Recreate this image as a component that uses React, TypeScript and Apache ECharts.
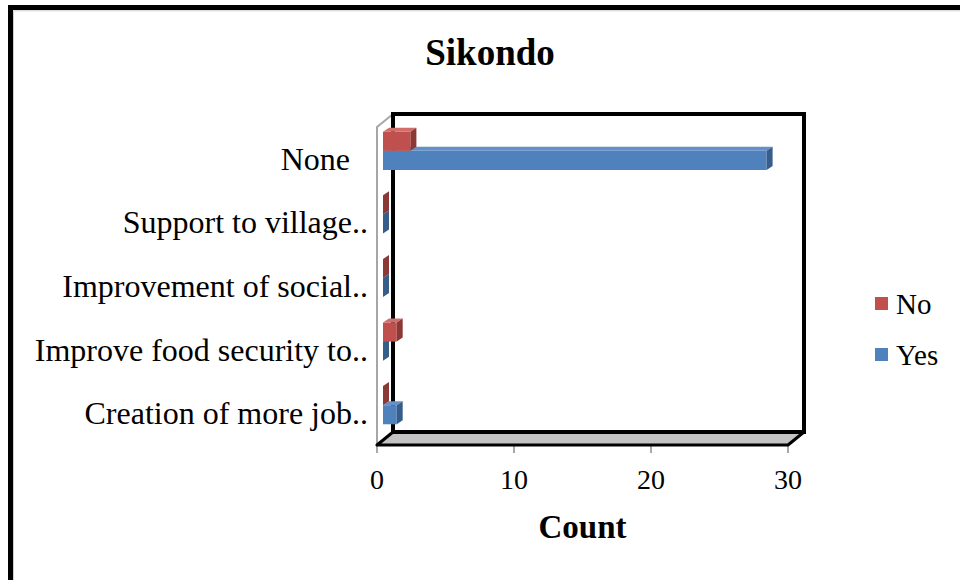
import React, { useEffect, useRef } from "react";
import * as echarts from "echarts";

// Categories listed bottom-to-top (ECharts category y axis starts at the bottom)
const categories = [
  "Creation of more job..",
  "Improve food security to..",
  "Improvement of social..",
  "Support to village..",
  "None",
];
const noCounts = [0, 1, 0, 0, 2];
const yesCounts = [1, 0, 0, 0, 28];
const xTicks = [0, 10, 20, 30];

const FONT = "'Liberation Serif', 'Times New Roman', serif";
const RED = { front: "#C0504D", top: "#CF6E6B", side: "#8C3835" };
const BLUE = { front: "#4F81BD", top: "#6390C8", side: "#375D8B" };

// Geometry of the 3D box around the plot
const FRONT_L = 377;
const FRONT_R = 788;
const FRONT_T = 127;
const FRONT_B = 445;
const DEPTH_X = 16;
const DEPTH_Y = -13;

function bar3d(colors: { front: string; top: string; side: string }, upper: boolean) {
  return (params: any, api: any) => {
    const v = api.value(0);
    const c = api.value(1);
    const start = api.coord([0, c]);
    const end = api.coord([v, c]);
    const band = api.size([0, 1])[1];
    const h = band * 0.3;
    const ox = 6;
    const oy = -8;
    const dx = 6;
    const dy = -4;
    const x0 = start[0] + ox;
    const x1 = end[0] + ox;
    const yTop = start[1] + oy + (upper ? -h : 0);
    const yBot = yTop + h;
    return {
      type: "group",
      children: [
        {
          type: "rect",
          shape: { x: x0, y: yTop, width: Math.max(0, x1 - x0), height: h },
          style: { fill: colors.front },
        },
        {
          type: "polygon",
          shape: {
            points: [
              [x0, yTop],
              [x0 + dx, yTop + dy],
              [x1 + dx, yTop + dy],
              [x1, yTop],
            ],
          },
          style: { fill: colors.top },
        },
        {
          type: "polygon",
          shape: {
            points: [
              [x1, yTop],
              [x1 + dx, yTop + dy],
              [x1 + dx, yBot + dy],
              [x1, yBot],
            ],
          },
          style: { fill: colors.side },
        },
      ],
    };
  };
}

export default function App() {
  const ref = useRef<HTMLDivElement>(null);

  useEffect(() => {
    if (!ref.current) return;
    const chart = echarts.init(ref.current, null, { renderer: "svg" });

    const yesData = yesCounts.map((v, i) => [v, i]);
    const noData = noCounts.map((v, i) => [v, i]);

    chart.setOption({
      animation: false,
      backgroundColor: "#ffffff",
      title: {
        text: "Sikondo",
        left: 485,
        top: 29,
        textAlign: "center",
        textStyle: { fontFamily: FONT, fontWeight: "bold", fontSize: 37, color: "#000" },
      },
      legend: {
        data: ["No", "Yes"],
        orient: "vertical",
        left: 870,
        top: 284,
        itemWidth: 13,
        itemHeight: 13,
        itemGap: 22,
        icon: "rect",
        textStyle: { fontFamily: FONT, fontSize: 29, color: "#000", padding: [0, 0, 0, 3] },
      },
      grid: {
        left: FRONT_L,
        right: 960 - FRONT_R,
        top: FRONT_T,
        bottom: 580 - FRONT_B,
        containLabel: false,
      },
      xAxis: {
        type: "value",
        min: xTicks[0],
        max: xTicks[xTicks.length - 1],
        interval: 10,
        name: "Count",
        nameLocation: "middle",
        nameGap: 65,
        nameTextStyle: { fontFamily: FONT, fontWeight: "bold", fontSize: 33, color: "#000" },
        axisLine: { show: false },
        axisTick: { show: true, length: 8, lineStyle: { color: "#8c8c8c", width: 1.5 } },
        axisLabel: { fontFamily: FONT, fontSize: 28, color: "#000", margin: 20 },
        splitLine: { show: false },
      },
      yAxis: {
        type: "category",
        data: categories,
        axisLine: { show: true, lineStyle: { color: "#a6a6a6", width: 2 } },
        axisTick: { show: false },
        axisLabel: {
          fontFamily: FONT,
          fontSize: 32,
          color: "#000",
          margin: 9,
          formatter: (v: string) => (v === "None" ? `{n|${v}}` : v),
          rich: { n: { fontFamily: FONT, fontSize: 32, color: "#000", padding: [0, 18, 0, 0] } },
        },
        splitLine: { show: false },
      },
      graphic: [
        // outer frame
        {
          type: "rect",
          z: 0,
          shape: { x: 10.5, y: 7.5, width: 1000, height: 1000 },
          style: { fill: "none", stroke: "#000", lineWidth: 5 },
        },
        {
          type: "polyline",
          z: 0,
          shape: { points: [[13.5, 1000], [13.5, 10.8], [1000, 10.8]] },
          style: { fill: "none", stroke: "#cfcfcf", lineWidth: 1 },
        },
        // left wall edge
        {
          type: "line",
          z: 1,
          shape: { x1: FRONT_L, y1: FRONT_T, x2: FRONT_L + DEPTH_X, y2: FRONT_T + DEPTH_Y },
          style: { stroke: "#a6a6a6", lineWidth: 2 },
        },
        // floor
        {
          type: "polygon",
          z: 1,
          shape: {
            points: [
              [FRONT_L, FRONT_B],
              [FRONT_R, FRONT_B],
              [FRONT_R + DEPTH_X, FRONT_B + DEPTH_Y],
              [FRONT_L + DEPTH_X, FRONT_B + DEPTH_Y],
            ],
          },
          style: { fill: "#c3c3c3", stroke: "#000", lineWidth: 3, lineJoin: "round" },
        },
        // back wall
        {
          type: "rect",
          z: 1,
          shape: {
            x: FRONT_L + DEPTH_X,
            y: FRONT_T + DEPTH_Y,
            width: FRONT_R - FRONT_L,
            height: FRONT_B - FRONT_T,
          },
          style: { fill: "none", stroke: "#000", lineWidth: 4 },
        },
      ],
      series: [
        {
          name: "Yes",
          type: "custom",
          z: 5,
          itemStyle: { color: BLUE.front },
          encode: { x: 0, y: 1 },
          renderItem: bar3d(BLUE, false),
          data: yesData,
        },
        {
          name: "No",
          type: "custom",
          z: 6,
          itemStyle: { color: RED.front },
          encode: { x: 0, y: 1 },
          renderItem: bar3d(RED, true),
          data: noData,
        },
      ],
    });

    return () => chart.dispose();
  }, []);

  return (
    <div
      ref={ref}
      style={{ position: "absolute", left: 0, top: 0, width: 960, height: 580, background: "#fff" }}
    />
  );
}
